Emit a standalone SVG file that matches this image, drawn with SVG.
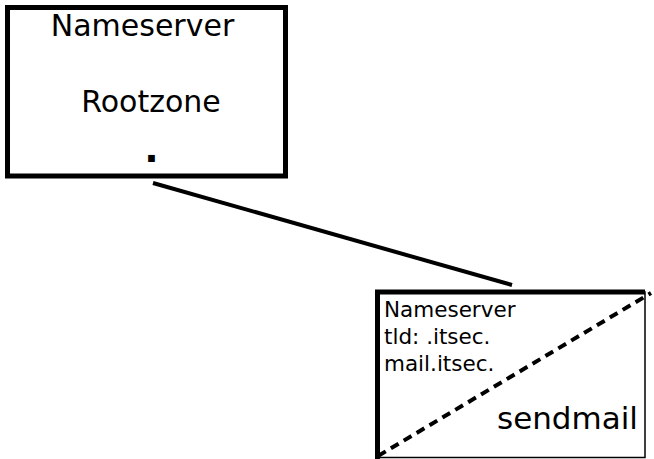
<svg xmlns="http://www.w3.org/2000/svg" width="654" height="459" viewBox="0 0 654 459">
  <style>
    text { font-family: "DejaVu Sans", "Liberation Sans", sans-serif; fill: #000; }
    .big { font-size: 30px; }
    .small { font-size: 21.5px; }
    .thick { fill: none; stroke: #000; stroke-width: 5; }
    .thin { fill: none; stroke: #000; stroke-width: 1.5; }
  </style>
  <rect width="654" height="459" fill="#fff"/>

  <g id="root-nameserver">
    <rect class="thick" x="7.5" y="7.5" width="278" height="168.5"/>
    <text class="big" x="142.5" y="36" text-anchor="middle">Nameserver</text>
    <text class="big" x="151" y="112" text-anchor="middle">Rootzone</text>
    <text x="151.5" y="162" text-anchor="middle" font-size="38" font-weight="bold">.</text>
  </g>

  <g id="connectors">
    <line x1="153" y1="183" x2="512" y2="285" stroke="#000" stroke-width="4"/>
  </g>

  <g id="tld-nameserver">
    <rect class="thin" x="377.5" y="292" width="267.5" height="165.5"/>
    <path class="thick" d="M377.5 459 V292 H645"/>
    <line x1="378" y1="456" x2="651" y2="293" stroke="#000" stroke-width="4" stroke-dasharray="9 6"/>
    <text class="small" x="384" y="317">Nameserver</text>
    <text class="small" x="384" y="344">tld: .itsec.</text>
    <text class="small" x="384" y="371">mail.itsec.</text>
    <text x="497" y="429" font-size="31">sendmail</text>
  </g>
</svg>
